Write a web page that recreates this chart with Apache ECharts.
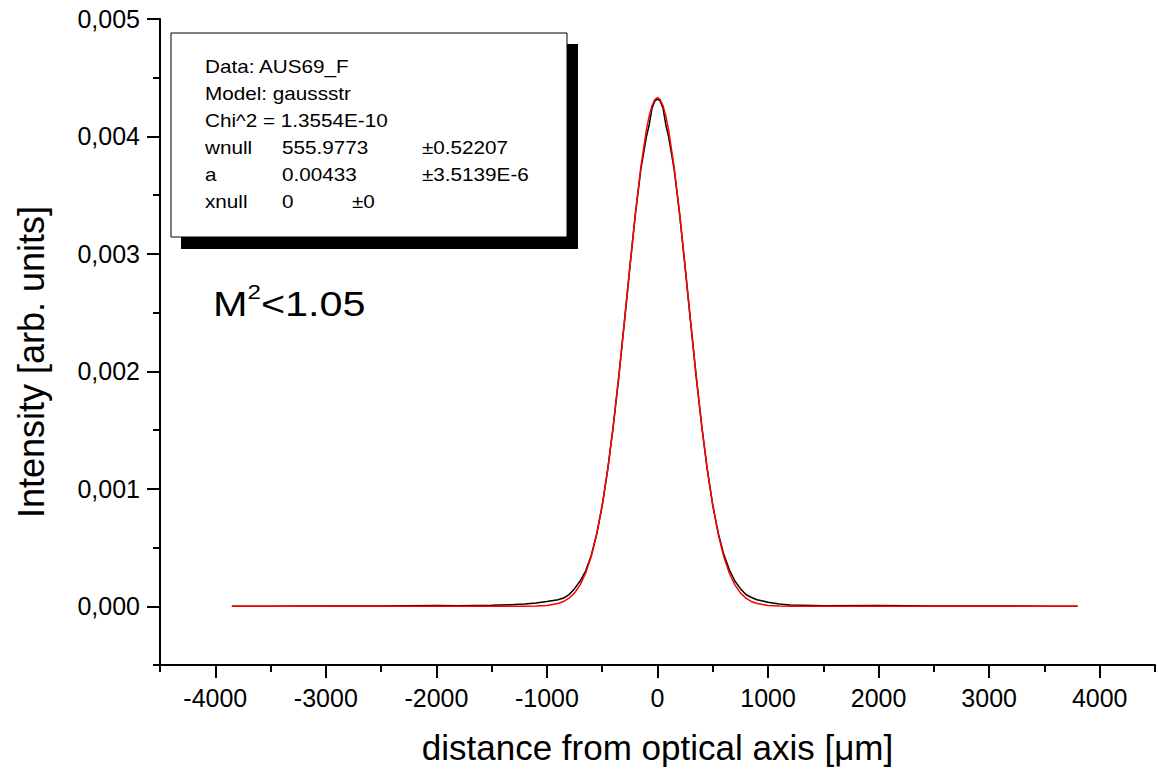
<!DOCTYPE html>
<html>
<head>
<meta charset="utf-8">
<script src="https://cdn.jsdelivr.net/npm/echarts@6/dist/echarts.min.js"></script>
<style>
html,body{margin:0;padding:0;background:#fff;}
#chart{width:1158px;height:770px;}
</style>
</head>
<body>
<div id="chart"></div>
<script>
// ---- data ----
const xMajorTicks = [-4000, -3000, -2000, -1000, 0, 1000, 2000, 3000, 4000];
const xMinorTicks = [-4500, -3500, -2500, -1500, -500, 500, 1500, 2500, 3500, 4500];
const yMajorTicks = [0, 0.001, 0.002, 0.003, 0.004, 0.005];
const yMinorTicks = [-0.0005, 0.0005, 0.0015, 0.0025, 0.0035, 0.0045];

// measured profile (black)
const dataX = [-3850, -3500, -3000, -2500, -2000, -1800, -1500, -1300, -1200, -1100, -1000, -900, -850, -800, -750, -700, -650, -600, -550, -500, -450, -400, -350, -300, -250, -200, -150, -100, -75, -50, -25, 0, 25, 50, 75, 100, 150, 200, 250, 300, 350, 400, 450, 500, 550, 600, 650, 700, 750, 800, 850, 900, 1000, 1100, 1200, 1500, 2000, 2500, 3000, 3500, 3800];
const dataY = [0, 0.000001, 0.000002, 0.000003, 0.000006, 0.000004, 0.000008, 0.000015, 0.00002, 0.000028, 0.00004, 0.000055, 0.00007, 0.0001, 0.00015, 0.000215, 0.0003, 0.00043, 0.000615, 0.00086, 0.001165, 0.001535, 0.001955, 0.002415, 0.002885, 0.00334, 0.003725, 0.004, 0.0041, 0.00424, 0.0043, 0.00432, 0.0043, 0.00424, 0.0041, 0.004, 0.003725, 0.00334, 0.002885, 0.002415, 0.001955, 0.001535, 0.001165, 0.00086, 0.00062, 0.00044, 0.00031, 0.000215, 0.00015, 0.0001, 0.000075, 0.000055, 0.000035, 0.00002, 0.00001, 0.000005, 0.000006, 0.000003, 0.000002, 0.000001, 0];

// gaussian fit (red)
const fitX = [-3850, -3000, -2000, -1500, -1200, -1100, -1000, -900, -850, -800, -750, -700, -650, -600, -550, -500, -450, -400, -350, -300, -250, -200, -150, -100, -75, -50, -25, 0, 25, 50, 75, 100, 150, 200, 250, 300, 350, 400, 450, 500, 550, 600, 650, 700, 750, 800, 850, 900, 1000, 1100, 1200, 1500, 2000, 3000, 3800];
const fitY = [0, 0, 0, 0, 0, 0.000002, 0.000007, 0.000023, 0.00004, 0.000069, 0.000114, 0.000182, 0.000281, 0.000422, 0.000612, 0.000859, 0.001168, 0.001538, 0.00196, 0.002419, 0.00289, 0.003343, 0.003743, 0.004059, 0.004175, 0.004261, 0.004313, 0.00433, 0.004313, 0.004261, 0.004175, 0.004059, 0.003743, 0.003343, 0.00289, 0.002419, 0.00196, 0.001538, 0.001168, 0.000859, 0.000612, 0.000422, 0.000281, 0.000182, 0.000114, 0.000069, 0.00004, 0.000023, 0.000007, 0.000002, 0, 0, 0, 0, 0];

const fitInfo = [
  ['Data: AUS69_F', '', ''],
  ['Model: gaussstr', '', ''],
  ['Chi^2 = 1.3554E-10', '', ''],
  ['wnull', '555.9773', '±0.52207'],
  ['a', '0.00433', '±3.5139E-6'],
  ['xnull', '0', '±0']
];

const zip = (xs, ys) => xs.map((x, i) => [x, ys[i]]);

const FONT = 'Liberation Sans, Arial, sans-serif';
const chart = echarts.init(document.getElementById('chart'), null, {renderer: 'svg'});

const axisBase = {
  type: 'value',
  splitLine: {show: false},
  axisLine: {onZero: false, lineStyle: {color: '#000', width: 2}},
};

// text box graphics
const boxChildren = [
  {type: 'rect', shape: {x: 181, y: 44, width: 397, height: 205}, style: {fill: '#000'}},
  {type: 'rect', shape: {x: 171, y: 33, width: 396, height: 204}, style: {fill: '#fff', stroke: '#000', lineWidth: 1}}
];
const colX = [205, 282, 422];
fitInfo.forEach((row, i) => {
  const y = 67 + i * 27;
  row.forEach((t, j) => {
    if (!t) return;
    let x = colX[j];
    if (i === 5 && j === 2) x = 352;
    boxChildren.push({type: 'text', x: x, y: y, scaleX: 1.15, style: {text: t, fill: '#000', font: '18px ' + FONT, textVerticalAlign: 'middle'}});
  });
});

chart.setOption({
  animation: false,
  backgroundColor: '#fff',
  grid: {left: 160, right: 3, top: 19, bottom: 100, containLabel: false},
  xAxis: [
    Object.assign({}, axisBase, {
      min: -4500, max: 4500, position: 'bottom',
      name: 'distance from optical axis [μm]', nameLocation: 'middle', nameGap: 65,
      nameTextStyle: {fontFamily: FONT, fontSize: 35, color: '#000'},
      axisTick: {customValues: xMajorTicks, length: 13, inside: false, lineStyle: {color: '#000', width: 2}},
      axisLabel: {customValues: xMajorTicks, formatter: v => String(v), fontFamily: FONT, fontSize: 25, color: '#000', margin: 20}
    }),
    Object.assign({}, axisBase, {
      min: -4500, max: 4500, position: 'bottom',
      axisLine: {show: false, onZero: false},
      axisTick: {customValues: xMinorTicks, length: 7, lineStyle: {color: '#000', width: 2}},
      axisLabel: {show: false}
    })
  ],
  yAxis: [
    Object.assign({}, axisBase, {
      min: -0.0005, max: 0.005, position: 'left',
      name: 'Intensity [arb. units]', nameLocation: 'middle', nameGap: 111,
      nameTextStyle: {fontFamily: FONT, fontSize: 36, color: '#000', padding: [0, 40, 0, 0]},
      axisTick: {customValues: yMajorTicks, length: 13, lineStyle: {color: '#000', width: 2}},
      axisLabel: {customValues: yMajorTicks, formatter: v => v.toFixed(3).replace('.', ','), fontFamily: FONT, fontSize: 25, color: '#000', margin: 20}
    }),
    Object.assign({}, axisBase, {
      min: -0.0005, max: 0.005, position: 'left',
      axisLine: {show: false, onZero: false},
      axisTick: {customValues: yMinorTicks, length: 7, lineStyle: {color: '#000', width: 2}},
      axisLabel: {show: false}
    })
  ],
  series: [
    {type: 'line', name: 'data', xAxisIndex: 0, yAxisIndex: 0, data: zip(dataX, dataY), showSymbol: false, lineStyle: {color: '#000', width: 1.5}, z: 2},
    {type: 'line', name: 'fit', xAxisIndex: 0, yAxisIndex: 0, data: zip(fitX, fitY), showSymbol: false, lineStyle: {color: '#ff0000', width: 1.5}, z: 3}
  ],
  graphic: [
    {type: 'group', children: boxChildren, z: 10},
    {type: 'text', x: 213, y: 282, scaleX: 1.15, z: 10, style: {
      text: '{a|M}{s|2}{a|<1.05}', fill: '#000',
      rich: {
        a: {fontFamily: FONT, fontSize: 36, lineHeight: 42, fill: '#000'},
        s: {fontFamily: FONT, fontSize: 21, lineHeight: 42, verticalAlign: 'top', fill: '#000'}
      }
    }}
  ]
});
</script>
</body>
</html>
